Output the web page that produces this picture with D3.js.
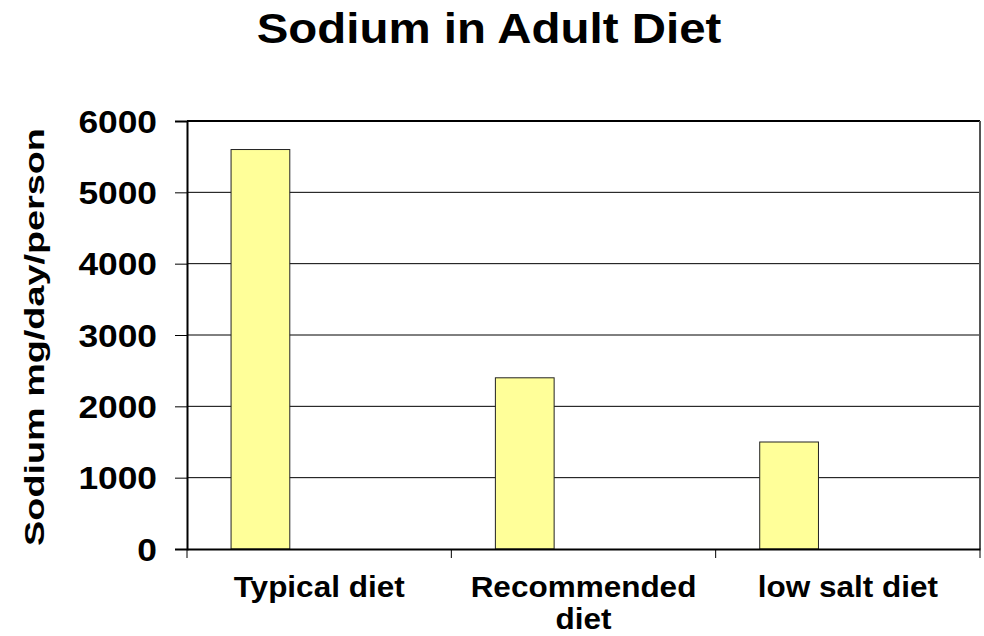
<!DOCTYPE html>
<html>
<head>
<meta charset="utf-8">
<script src="https://cdn.jsdelivr.net/npm/d3@7"></script>
<style>
  html, body { margin: 0; padding: 0; background: #fff; }
  svg text { font-family: "Liberation Sans", Arial, Helvetica, sans-serif; font-weight: bold; fill: #000; }
</style>
</head>
<body>
<svg id="chart" width="984" height="636"></svg>
<script>
// Chart data
const categories = ["Typical diet", "Recommended diet", "low salt diet"];
const labelLines = [["Typical diet"], ["Recommended", "diet"], ["low salt diet"]];
const sodium = [5600, 2400, 1500];
const yTicks = [0, 1000, 2000, 3000, 4000, 5000, 6000];

const title = "Sodium in Adult Diet";
const yTitle = "Sodium mg/day/person";

const svg = d3.select("#chart");
const plot = { left: 187, right: 980, top: 121, bottom: 549 };

const x = d3.scaleBand()
  .domain(categories)
  .range([plot.left, plot.right])
  .padding(0);

// Excel style: three series slots per category, only the first one filled
const slot = d3.scaleBand()
  .domain([0, 1, 2])
  .range([0, x.bandwidth()])
  .paddingOuter(0.75);

const y = d3.scaleLinear()
  .domain([0, 6000])
  .range([plot.bottom, plot.top]);

// grid lines
svg.append("g")
  .selectAll("line")
  .data(yTicks.filter(d => d > 0 && d < 6000))
  .join("line")
  .attr("x1", plot.left)
  .attr("x2", plot.right)
  .attr("y1", d => y(d))
  .attr("y2", d => y(d))
  .attr("stroke", "#000")
  .attr("stroke-width", 1);

// plot border top and right
svg.append("line")
  .attr("x1", plot.left).attr("x2", plot.right)
  .attr("y1", y(6000)).attr("y2", y(6000))
  .attr("stroke", "#000").attr("stroke-width", 2);
svg.append("line")
  .attr("x1", plot.right).attr("x2", plot.right)
  .attr("y1", plot.top).attr("y2", plot.bottom)
  .attr("stroke", "#555").attr("stroke-width", 2);

// bars
svg.append("g")
  .selectAll("rect")
  .data(sodium)
  .join("rect")
  .attr("x", (d, i) => x(categories[i]) + slot(0))
  .attr("y", d => y(d))
  .attr("width", slot.bandwidth())
  .attr("height", d => y(0) - y(d))
  .attr("fill", "#FFFF99")
  .attr("stroke", "#222")
  .attr("stroke-width", 1);

// y axis
const yAxis = svg.append("g")
  .attr("transform", `translate(${plot.left},0)`)
  .call(d3.axisLeft(y).tickValues(yTicks).tickFormat(d3.format("d")).tickSize(12).tickPadding(18));
yAxis.select(".domain").attr("stroke", "#000").attr("stroke-width", 2);
yAxis.selectAll(".tick line").attr("stroke", "#000").attr("stroke-width", 1);
// the picture's text is drawn a little wider than the font
yAxis.selectAll(".tick text")
  .attr("x", 0)
  .attr("dy", "0.36em")
  .attr("transform", "translate(-30,0) scale(1.14,1)")
  .style("font-size", "31px");

// x axis
const xAxis = svg.append("g")
  .attr("transform", `translate(0,${plot.bottom})`)
  .call(d3.axisBottom(x).tickValues([]).tickSizeOuter(0));
xAxis.select(".domain").attr("stroke", "#000").attr("stroke-width", 2);
xAxis.selectAll("line.bound")
  .data([...categories.map(c => x(c)), plot.right])
  .join("line")
  .attr("class", "bound")
  .attr("x1", d => d).attr("x2", d => d)
  .attr("y1", 0).attr("y2", 9)
  .attr("stroke", "#000").attr("stroke-width", 1);

// category labels
const lab = svg.append("g")
  .selectAll("text")
  .data(categories)
  .join("text")
  .attr("transform", d => `translate(${x(d) + x.bandwidth() / 2},597) scale(1.05,1)`)
  .attr("text-anchor", "middle")
  .style("font-size", "30px");
lab.selectAll("tspan")
  .data((d, i) => labelLines[i])
  .join("tspan")
  .attr("x", 0)
  .attr("dy", (d, i) => i === 0 ? 0 : 32)
  .text(d => d);

// title
svg.append("text")
  .attr("transform", "translate(489,43) scale(1.13,1)")
  .attr("text-anchor", "middle")
  .style("font-size", "42px")
  .text(title);

// y axis title
svg.append("text")
  .attr("transform", `translate(44,${(plot.top + plot.bottom) / 2 + 2}) rotate(-90) scale(1.35,1)`)
  .attr("text-anchor", "middle")
  .style("font-size", "28px")
  .text(yTitle);
</script>
</body>
</html>
